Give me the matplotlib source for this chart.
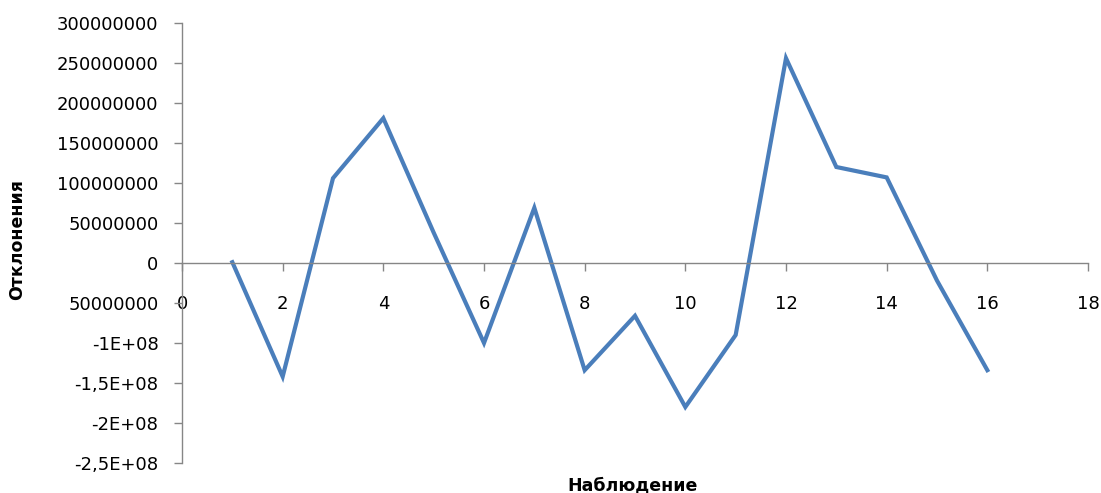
import matplotlib
matplotlib.use("Agg")
import matplotlib.pyplot as plt
from matplotlib.ticker import FixedLocator, FixedFormatter

plt.rcParams['font.family'] = ['DejaVu Sans']

observations = list(range(1, 17))
deviations = [1e6, -142e6, 106e6, 181e6, 38e6, -100e6, 69e6, -134e6,
              -66e6, -180e6, -90e6, 256e6, 120e6, 107e6, -22e6, -134e6]

y_ticks = [300e6, 250e6, 200e6, 150e6, 100e6, 50e6, 0, -50e6, -100e6, -150e6, -200e6, -250e6]
y_labels = ["300000000", "250000000", "200000000", "150000000", "100000000", "50000000",
            "0", "50000000", "-1E+08", "-1,5E+08", "-2E+08", "-2,5E+08"]
x_ticks = [0, 2, 4, 6, 8, 10, 12, 14, 16, 18]
x_labels = [str(v) for v in x_ticks]

x_title = "Наблюдение"
y_title = "Отклонения"

fig = plt.figure(figsize=(11.01, 4.93), dpi=100)
ax = fig.add_axes([182/1101, 30/493, (1088-182)/1101, (463-23)/493])

ax.plot(observations, deviations, color='#4A7EBB', linewidth=3.0, solid_joinstyle='miter')

ax.set_xlim(0, 18)
ax.set_ylim(-250e6, 300e6)

ax.spines['top'].set_visible(False)
ax.spines['right'].set_visible(False)
ax.spines['bottom'].set_position(('data', 0))
for s in ('left', 'bottom'):
    ax.spines[s].set_color('#868686')
    ax.spines[s].set_linewidth(1.0)

ax.yaxis.set_major_locator(FixedLocator(y_ticks))
ax.yaxis.set_major_formatter(FixedFormatter(y_labels))
ax.xaxis.set_major_locator(FixedLocator(x_ticks))
ax.xaxis.set_major_formatter(FixedFormatter(x_labels))

ax.tick_params(axis='y', direction='out', length=6, width=1, color='#868686',
               labelsize=13, pad=11, labelcolor='black')
ax.tick_params(axis='x', direction='out', length=6, width=1, color='#868686',
               labelsize=13, pad=17, labelcolor='black')

fig.text(633/1101, 1 - 485/493, x_title, ha='center', va='center',
         fontsize=12.5, fontweight='bold')
fig.text(17/1101, 1 - 240/493, y_title, ha='center', va='center',
         fontsize=12.5, fontweight='bold', rotation=90)

fig.savefig("out.png", dpi=100)
